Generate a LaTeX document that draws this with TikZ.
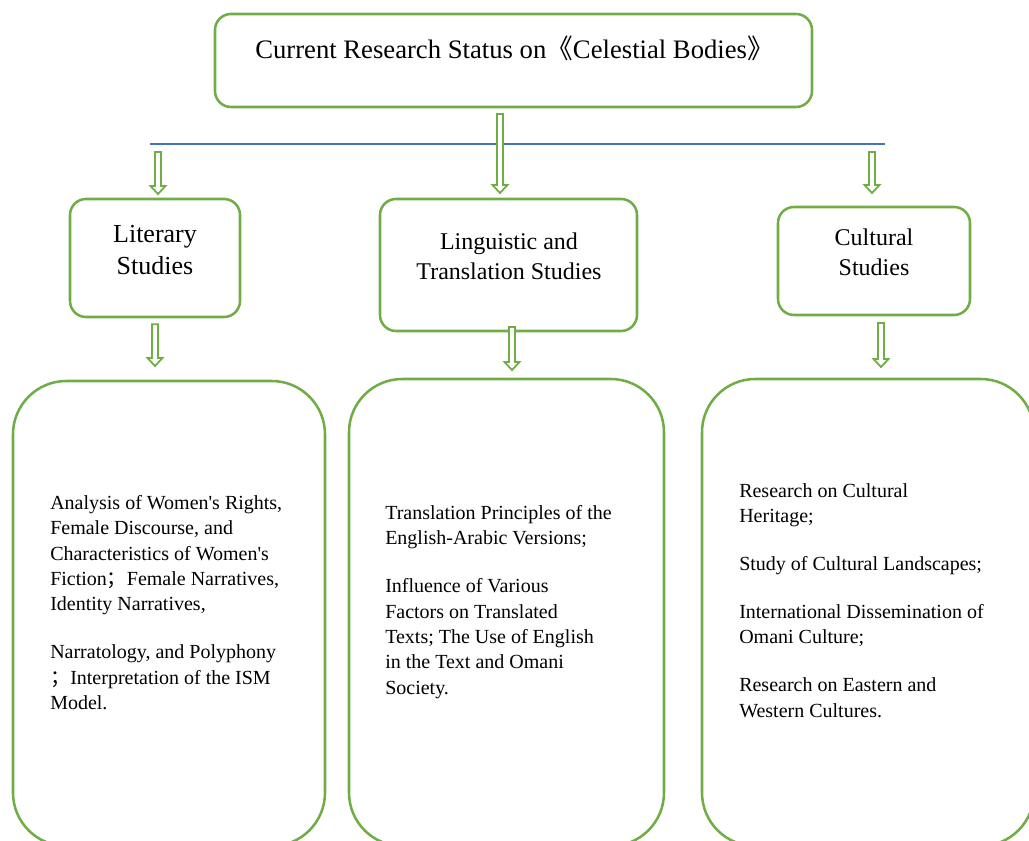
\documentclass[tikz,border=0pt]{standalone}
\usepackage{fontspec}
\setmainfont{Liberation Serif}
\newfontfamily\cjk{Noto Sans CJK SC}
\usepackage{xcolor}
\usetikzlibrary{calc}
\definecolor{boxgreen}{HTML}{70AD47}
\definecolor{lineblue}{HTML}{4472C4}
\newcommand{\apos}{\textquotesingle}

\begin{document}
\begin{tikzpicture}[x=0.75pt, y=-0.75pt,
    box/.style={rectangle, draw=boxgreen, line width=1.9pt, rounded corners=12pt, inner sep=0pt},
    bigbox/.style={box, rounded corners=40pt},
    headtext/.style={font=\fontsize{18}{22.5}\selectfont, align=center, inner sep=0pt},
    bodytext/.style={font=\fontsize{15}{19}\selectfont, align=left, anchor=north west, inner sep=0pt},
    arrow/.style={draw=boxgreen, fill=white, line width=1.35pt,
      to path={let \p1=(\tikztostart), \p2=(\tikztotarget) in
        (\x1-2.25pt,\y1) -- (\x1+2.25pt,\y1) -- (\x1+2.25pt,\y2+6pt) -- (\x1+5.6pt,\y2+6pt)
        -- (\x1,\y2) -- (\x1-5.6pt,\y2+6pt) -- (\x1-2.25pt,\y2+6pt) -- cycle}}
]
    \useasboundingbox (0,0) rectangle (1029,841);
    \clip (0,0) rectangle (1029,841);

    % Nodes
    \node[box, minimum width=447.75pt, minimum height=69.75pt] (title) at (513.5,60.5) {};
    \node[font=\fontsize{20}{24}\selectfont, anchor=base, inner sep=0pt] (titletext) at (514.5,59)
        {Current Research Status on{\cjk 《}Celestial Bodies{\cjk 》}};

    \node[box, minimum width=127.5pt, minimum height=88.5pt] (lit) at (155,258) {};
    \node[headtext, font=\fontsize{19.5}{24}\selectfont] (littext) at (155,250) {Literary\\Studies};

    \node[box, minimum width=192.75pt, minimum height=99pt] (ling) at (508.5,265) {};
    \node[headtext] (lingtext) at (509,256) {Linguistic and\\Translation Studies};

    \node[box, minimum width=144pt, minimum height=81pt] (cult) at (874,261) {};
    \node[headtext] (culttext) at (874,252) {Cultural\\Studies};

    \node[bigbox, minimum width=234pt, minimum height=348.75pt] (litbody) at (169,613.5) {};
    \node[bodytext] (littopics) at (50,495)
        {Analysis of Women\apos s Rights,\\Female Discourse, and\\Characteristics of Women\apos s\\
         Fiction{\cjk ；}Female Narratives,\\Identity Narratives,\\[17pt]
         Narratology, and Polyphony\\{\cjk ；}Interpretation of the ISM\\Model.};

    \node[bigbox, minimum width=236.25pt, minimum height=350.25pt] (lingbody) at (506.5,612.5) {};
    \node[bodytext] (lingtopics) at (385,505)
        {Translation Principles of the\\English-Arabic Versions;\\[17pt]
         Influence of Various\\Factors on Translated\\Texts; The Use of English\\
         in the Text and Omani\\Society.};

    \node[bigbox, minimum width=249pt, minimum height=350.25pt] (cultbody) at (868,612.5) {};
    \node[bodytext] (culttopics) at (739,483)
        {Research on Cultural\\Heritage;\\[17pt]
         Study of Cultural Landscapes;\\[17pt]
         International Dissemination of\\Omani Culture;\\[17pt]
         Research on Eastern and\\Western Cultures.};

    % Blue rule
    \coordinate (rulew) at (150,144);
    \coordinate (rulee) at (885,144);
    \draw[lineblue, line width=0.9pt] (rulew) -- (rulee);

    % Arrows
    \coordinate (a0s) at (500,114);  \coordinate (a0e) at (500,193);
    \coordinate (a1s) at (158,152);  \coordinate (a1e) at (158,194);
    \coordinate (a2s) at (872,152);  \coordinate (a2e) at (872,193);
    \coordinate (b1s) at ($(lit.south)+(0,6)$);   \coordinate (b1e) at (155,366);
    \coordinate (b2s) at (512,327);  \coordinate (b2e) at (512,370);
    \coordinate (b3s) at (881,323);  \coordinate (b3e) at (881,367);
    \draw[arrow] (a0s) to (a0e);
    \draw[arrow] (a1s) to (a1e);
    \draw[arrow] (a2s) to (a2e);
    \draw[arrow] (b1s) to (b1e);
    \draw[arrow] (b2s) to (b2e);
    \draw[arrow] (b3s) to (b3e);
\end{tikzpicture}
\end{document}
